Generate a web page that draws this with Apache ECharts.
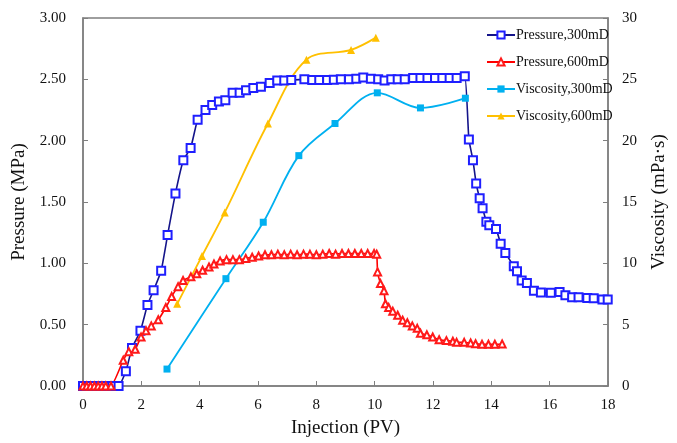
<!DOCTYPE html>
<html>
<head>
<meta charset="utf-8">
<script src="https://cdn.jsdelivr.net/npm/echarts@6/dist/echarts.min.js"></script>
<style>
html,body{margin:0;padding:0;background:#fff;}
#c{width:677px;height:443px;}
</style>
</head>
<body>
<div id="c"></div>
<script>
// Injection (PV) vs Pressure (MPa)
var pressure300 = [[0,0],[0.2,0],[0.4,0],[0.6,0],[0.8,0],[1.0,0],[1.22,0],[1.47,0.12],[1.68,0.31],[1.97,0.45],[2.21,0.66],[2.42,0.78],[2.68,0.94],[2.9,1.23],[3.17,1.57],[3.44,1.84],[3.69,1.94],[3.93,2.17],[4.2,2.25],[4.43,2.29],[4.66,2.32],[4.88,2.33],[5.13,2.39],[5.37,2.39],[5.59,2.41],[5.84,2.43],[6.1,2.44],[6.4,2.47],[6.66,2.49],[6.9,2.49],[7.14,2.495],[7.59,2.50],[7.86,2.495],[8.1,2.495],[8.37,2.495],[8.6,2.497],[8.84,2.5],[9.12,2.5],[9.37,2.505],[9.61,2.515],[9.87,2.505],[10.12,2.5],[10.34,2.49],[10.57,2.5],[10.79,2.5],[11.03,2.5],[11.32,2.51],[11.57,2.51],[11.81,2.51],[12.07,2.51],[12.32,2.51],[12.57,2.51],[12.81,2.51],[13.09,2.525],[13.23,2.01],[13.37,1.84],[13.48,1.65],[13.6,1.53],[13.7,1.45],[13.83,1.34],[13.93,1.31],[14.16,1.28],[14.32,1.16],[14.48,1.085],[14.77,0.976],[14.88,0.936],[15.04,0.86],[15.22,0.84],[15.46,0.776],[15.7,0.763],[16.04,0.76],[16.34,0.766],[16.54,0.74],[16.77,0.724],[16.99,0.724],[17.29,0.718],[17.51,0.715],[17.81,0.705],[17.99,0.705]];
var pressure600 = [[0,0],[0.13,0],[0.26,0],[0.39,0],[0.52,0],[0.65,0],[0.78,0],[0.96,0],[1.38,0.21],[1.57,0.28],[1.79,0.30],[1.99,0.40],[2.16,0.45],[2.34,0.49],[2.58,0.54],[2.84,0.64],[3.04,0.73],[3.26,0.81],[3.43,0.86],[3.7,0.89],[3.9,0.915],[4.1,0.944],[4.32,0.97],[4.49,0.995],[4.7,1.02],[4.92,1.03],[5.14,1.03],[5.36,1.03],[5.58,1.04],[5.8,1.05],[6.02,1.06],[6.24,1.07],[6.46,1.07],[6.68,1.075],[6.9,1.07],[7.12,1.075],[7.34,1.07],[7.56,1.075],[7.78,1.075],[8.0,1.07],[8.22,1.075],[8.44,1.08],[8.66,1.075],[8.88,1.08],[9.1,1.08],[9.32,1.08],[9.54,1.08],[9.76,1.08],[9.98,1.08],[10.07,1.075],[10.1,0.93],[10.2,0.835],[10.32,0.776],[10.37,0.67],[10.48,0.64],[10.62,0.61],[10.79,0.577],[10.96,0.537],[11.12,0.516],[11.29,0.49],[11.46,0.47],[11.57,0.43],[11.79,0.417],[11.99,0.40],[12.21,0.377],[12.46,0.37],[12.68,0.365],[12.81,0.356],[13.07,0.356],[13.29,0.35],[13.46,0.345],[13.68,0.34],[13.9,0.34],[14.12,0.34],[14.37,0.343]];
// Injection (PV) vs Viscosity (mPa·s)
var viscosity300 = [[2.88,1.38],[4.9,8.75],[6.18,13.35],[7.4,18.78],[8.64,21.4],[10.09,23.9],[11.57,22.67],[13.11,23.46]];
var viscosity600 = [[3.23,6.7],[4.08,10.6],[4.86,14.15],[6.34,21.4],[7.66,26.6],[9.19,27.4],[10.04,28.4]];
var seriesNames = ['Pressure,300mD','Pressure,600mD','Viscosity,300mD','Viscosity,600mD'];

var FONT = '"Liberation Serif","Times New Roman",serif';
var AX = '#7f7f7f';
var chart = echarts.init(document.getElementById('c'), null, {renderer:'canvas'});
chart.setOption({
  animation:false,
  backgroundColor:'#fff',
  grid:{left:83,right:53,top:18,bottom:49,show:true,borderColor:AX,borderWidth:1.5,containLabel:false},
  legend:{
    orient:'vertical', left:481, top:23, itemWidth:28, itemHeight:9, itemGap:13,
    textStyle:{fontFamily:FONT,fontSize:14,color:'#111',padding:[0,0,0,-4]},
    data:seriesNames
  },
  xAxis:{
    type:'value', min:0, max:18, interval:2,
    name:'Injection (PV)', nameLocation:'middle', nameGap:33,
    nameTextStyle:{fontFamily:FONT,fontSize:19,color:'#111'},
    axisLine:{show:true,lineStyle:{color:AX,width:1.5}},
    axisTick:{show:true,inside:true,length:5,lineStyle:{color:AX}},
    axisLabel:{fontFamily:FONT,fontSize:15,color:'#111',margin:12},
    splitLine:{show:false}
  },
  yAxis:[{
    type:'value', min:0, max:3, interval:0.5, position:'left',
    name:'Pressure (MPa)', nameLocation:'middle', nameGap:42, nameRotate:90,
    nameTextStyle:{fontFamily:FONT,fontSize:19,color:'#111'},
    axisLine:{show:true,lineStyle:{color:AX,width:1.5}},
    axisTick:{show:true,inside:true,length:5,lineStyle:{color:AX}},
    axisLabel:{fontFamily:FONT,fontSize:15,color:'#111',margin:17,formatter:function(v){return v.toFixed(2);}},
    splitLine:{show:false}
  },{
    type:'value', min:0, max:30, interval:5, position:'right',
    name:'Viscosity (mPa·s)', nameLocation:'middle', nameGap:42, nameRotate:90,
    nameTextStyle:{fontFamily:FONT,fontSize:19,color:'#111'},
    axisLine:{show:true,lineStyle:{color:AX,width:1.5}},
    axisTick:{show:true,inside:true,length:5,lineStyle:{color:AX}},
    axisLabel:{fontFamily:FONT,fontSize:15,color:'#111',margin:14},
    splitLine:{show:false}
  }],
  series:[{
    name:seriesNames[0], type:'line', yAxisIndex:0, data:pressure300,
    symbol:'emptyRect', symbolSize:8, smooth:0.15,
    itemStyle:{color:'#1f1fff',borderWidth:1.3},
    lineStyle:{color:'#14148a',width:1.6}
  },{
    name:seriesNames[1], type:'line', yAxisIndex:0, data:pressure600,
    symbol:'emptyTriangle', symbolSize:7, smooth:0.15,
    itemStyle:{color:'#ff1a1a',borderWidth:1.2},
    lineStyle:{color:'#ff0000',width:1.6}
  },{
    name:seriesNames[2], type:'line', yAxisIndex:1, data:viscosity300,
    symbol:'rect', symbolSize:7, smooth:0.35,
    itemStyle:{color:'#00b0f0'},
    lineStyle:{color:'#00b0f0',width:1.8}
  },{
    name:seriesNames[3], type:'line', yAxisIndex:1, data:viscosity600,
    symbol:'triangle', symbolSize:8, smooth:0.35,
    itemStyle:{color:'#ffc000'},
    lineStyle:{color:'#ffc000',width:1.8}
  }]
});
</script>
</body>
</html>
